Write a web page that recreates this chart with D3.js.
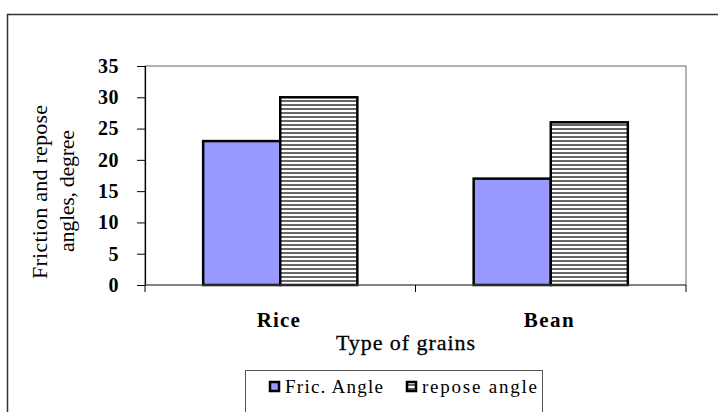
<!DOCTYPE html>
<html>
<head>
<meta charset="utf-8">
<script src="https://cdn.jsdelivr.net/npm/d3@7"></script>
<style>
body { margin: 0; background: #fff; }
text { font-family: "Liberation Serif", "Times New Roman", serif; fill: #000; }
</style>
</head>
<body>
<svg></svg>
<script>
var grains = ["Rice", "Bean"]
var seriesNames = ["Fric. Angle", "repose angle"]
var fricAngle = [23, 17]
var reposeAngle = [30, 26]
var yTicks = [0, 5, 10, 15, 20, 25, 30, 35]

var width = 718
var height = 412

var svg = d3.select('svg')
            .attr('width', width)
            .attr('height', height)

// hatch pattern for repose angle
var defs = svg.append('defs')
var pat = defs.append('pattern')
              .attr('id', 'hatch')
              .attr('patternUnits', 'userSpaceOnUse')
              .attr('width', 8)
              .attr('height', 4)
pat.append('rect').attr('width', 8).attr('height', 4).attr('fill', '#fff')
pat.append('rect').attr('y', 0).attr('width', 8).attr('height', 2).attr('fill', '#666')

// outer chart border
svg.append('rect')
   .attr('x', 7.5).attr('y', 14.5)
   .attr('width', 730).attr('height', 420)
   .attr('fill', 'none').attr('stroke', '#333').attr('stroke-width', 1.5)

var plotLeft = 145, plotRight = 686, plotTop = 66, plotBottom = 285

var xScale = d3.scaleBand()
               .domain(grains)
               .range([plotLeft, plotRight])
               .paddingInner(0)
               .paddingOuter(0)

var inner = d3.scaleBand()
              .domain(seriesNames)
              .range([0, xScale.bandwidth() * 0.57])

var yScale = d3.scaleLinear()
               .domain([0, 35])
               .range([plotBottom, plotTop])

// plot area frame
svg.append('rect')
   .attr('x', plotLeft).attr('y', plotTop)
   .attr('width', plotRight - plotLeft).attr('height', plotBottom - plotTop)
   .attr('fill', 'none').attr('stroke', '#666').attr('stroke-width', 1)

var data = []
grains.forEach(function(g, i){
  data.push({grain: g, series: seriesNames[0], value: fricAngle[i]})
  data.push({grain: g, series: seriesNames[1], value: reposeAngle[i]})
})

var offset = (xScale.bandwidth() - inner.range()[1]) / 2

svg.append('g').selectAll('rect')
   .data(data)
   .enter()
   .append('rect')
   .attr('x', function(d){ return xScale(d.grain) + offset + inner(d.series) })
   .attr('y', function(d){ return yScale(d.value) })
   .attr('width', inner.bandwidth())
   .attr('height', function(d){ return plotBottom - yScale(d.value) })
   .attr('fill', function(d){ return d.series == seriesNames[0] ? '#9999ff' : 'url(#hatch)' })
   .attr('stroke', '#000')
   .attr('stroke-width', 2.5)

// y axis
var yAxis = svg.append('g')
               .attr('transform', 'translate(' + plotLeft + ',0)')
               .call(d3.axisLeft(yScale).tickValues(yTicks).tickSize(8).tickPadding(18))
yAxis.select('.domain').attr('stroke', '#000').attr('stroke-width', 1.2)
yAxis.selectAll('.tick line').attr('stroke', '#000')
yAxis.selectAll('.tick text')
     .attr('font-size', 20).attr('font-weight', 'bold').attr('fill', '#000')
     .style('letter-spacing', '0.5px')

// x axis with ticks between categories
var xAxis = svg.append('g')
               .attr('transform', 'translate(0,' + plotBottom + ')')
var xTickPos = [plotLeft, xScale('Bean'), plotRight]
xAxis.append('line')
     .attr('x1', plotLeft).attr('x2', plotRight)
     .attr('stroke', '#555').attr('stroke-width', 1.2)
xAxis.selectAll('.xt')
     .data(xTickPos)
     .enter()
     .append('line')
     .attr('x1', function(d){ return d }).attr('x2', function(d){ return d })
     .attr('y1', 0).attr('y2', 7)
     .attr('stroke', '#000')

// category labels (widths)
var catWidths = [43, 50]
svg.selectAll('.cat')
   .data(grains)
   .enter()
   .append('text')
   .attr('x', function(d, i){ return xScale(d) + xScale.bandwidth() / 2 - 2 - catWidths[i] / 2 })
   .attr('y', 327)
   .attr('font-size', 21).attr('font-weight', 'bold')
   .attr('textLength', function(d, i){ return catWidths[i] })
   .attr('lengthAdjust', 'spacing')
   .text(function(d){ return d })

svg.append('text')
   .attr('x', 336).attr('y', 350)
   .attr('font-size', 22)
   .attr('textLength', 139)
   .attr('lengthAdjust', 'spacing')
   .style('stroke', '#000').style('stroke-width', 0.3)
   .text('Type of grains')

var yTitle = svg.append('text')
                .attr('transform', 'translate(47,192) rotate(-90)')
                .attr('font-size', 22)
yTitle.append('tspan').attr('x', -87).attr('y', 0)
      .attr('textLength', 174).attr('lengthAdjust', 'spacing')
      .text('Friction and repose')
yTitle.append('tspan').attr('x', -60).attr('y', 27)
      .attr('textLength', 122).attr('lengthAdjust', 'spacing')
      .text('angles, degree')

// legend
var legend = svg.append('g')
legend.append('rect')
      .attr('x', 245.5).attr('y', 370.5)
      .attr('width', 297).attr('height', 60)
      .attr('fill', '#fff').attr('stroke', '#555').attr('stroke-width', 1)

var legX = [270, 407]
var legW = [98, 115]
seriesNames.forEach(function(s, i){
  legend.append('rect')
        .attr('x', legX[i]).attr('y', 382)
        .attr('width', 9).attr('height', 9)
        .attr('fill', i == 0 ? '#9999ff' : 'url(#hatch)')
        .attr('stroke', '#000').attr('stroke-width', 2.5)
  legend.append('text')
        .attr('x', legX[i] + 15).attr('y', 393)
        .attr('font-size', 19)
        .attr('textLength', legW[i]).attr('lengthAdjust', 'spacing')
        .text(s)
})
</script>
</body>
</html>
